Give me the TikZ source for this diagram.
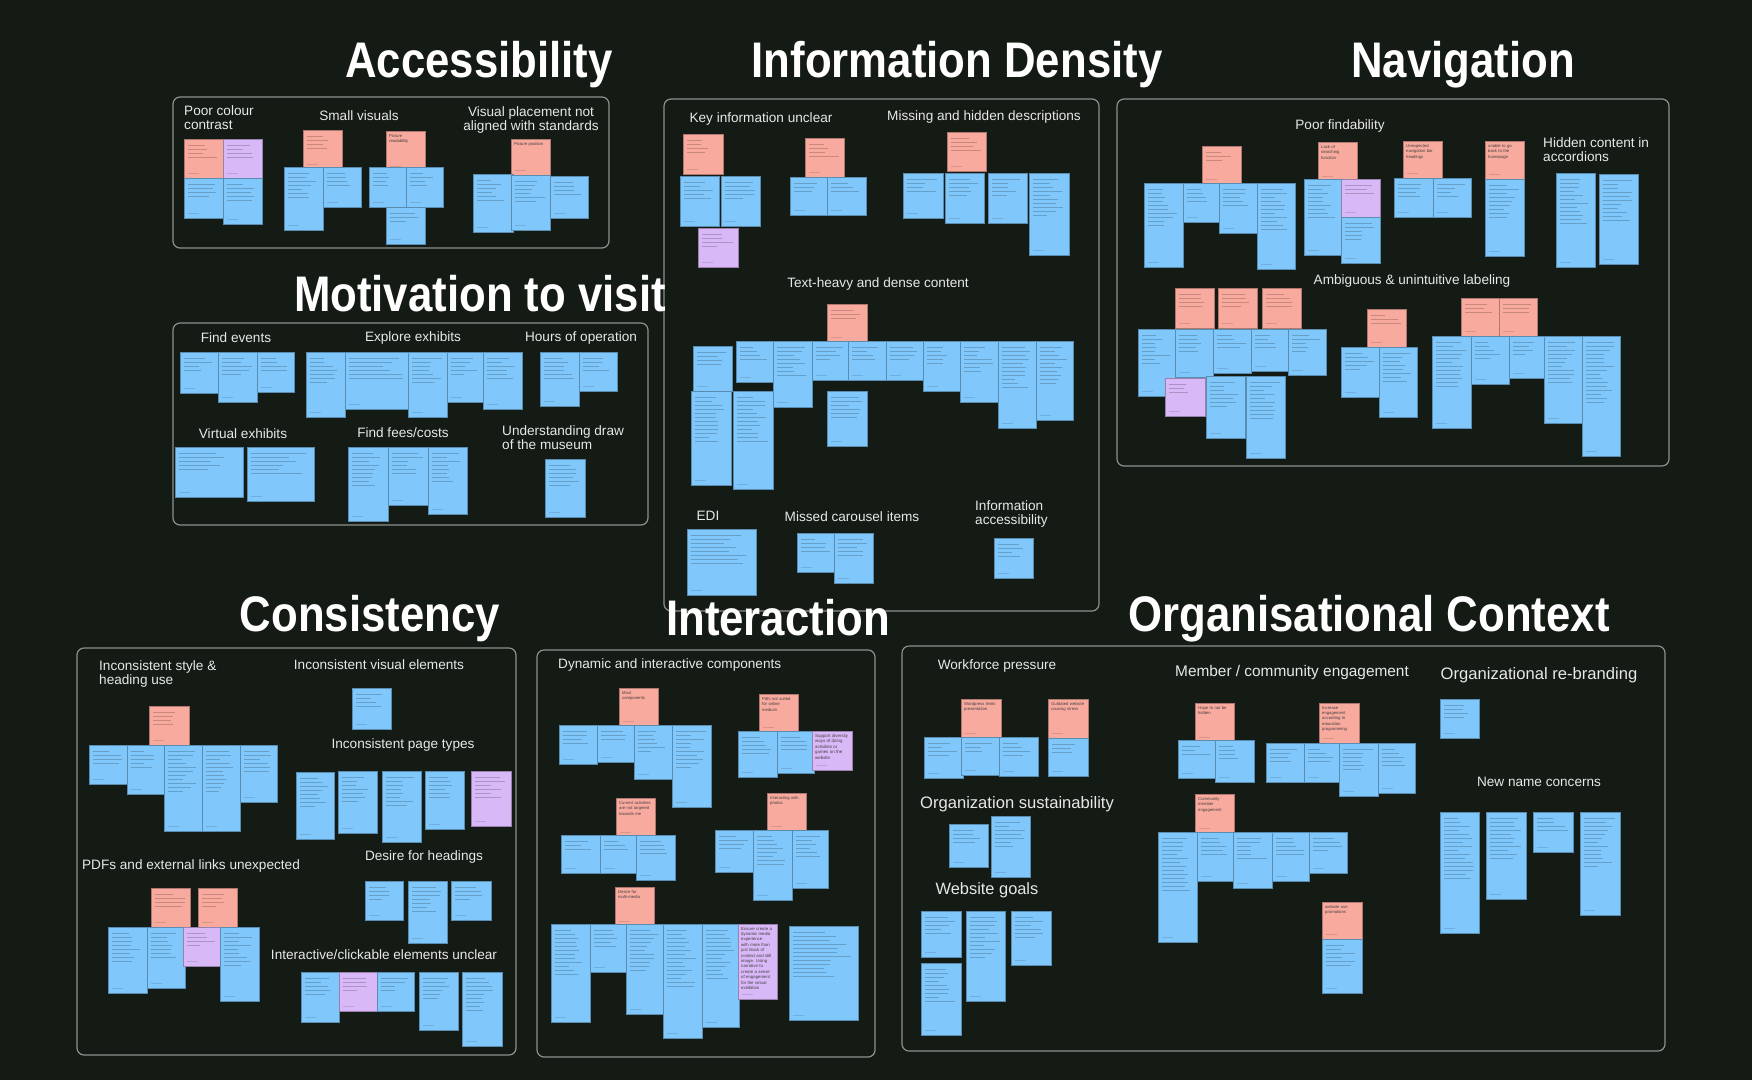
\documentclass[tikz,border=0pt]{standalone}
\usepackage{fontspec}
\setmainfont{Liberation Sans}
\usepackage{graphicx}
\usepackage{tikz}
\usetikzlibrary{positioning}
\definecolor{boardbg}{HTML}{141A14}
\definecolor{boardline}{HTML}{8E918E}
\definecolor{notesky}{HTML}{80C8FC}
\definecolor{notesalmon}{HTML}{F9AA9E}
\definecolor{notelilac}{HTML}{D9B8F7}
\definecolor{labelgrey}{HTML}{E8E8E8}

\tikzset{
  panel/.style={draw=boardline, line width=1.2pt, rounded corners=7pt},
  bigtitle/.style={white, inner sep=0pt, anchor=base, font=\fontsize{50}{50}\selectfont\bfseries},
  subtitle/.style={labelgrey, inner sep=0pt, anchor=north, align=center, font=\fontsize{13.6}{14}\selectfont},
  subleft/.style={subtitle, anchor=north west, align=left},
  noteink/.style={black, opacity=0.2, line width=0.75pt},
  notetext/.style={anchor=north west, inner sep=0pt, align=left, text=black!75,
    font=\fontsize{4.2}{5.4}\selectfont,
    execute at begin node={\hyphenpenalty=10000\exhyphenpenalty=10000\relax}},
}

% squeezed heading text
\newcommand{\hd}[1]{\scalebox{0.875}[1]{#1}}

% sticky note with scribbled lines: x, y, width, height, colour
\newcommand{\stick}[5]{%
  \fill[#5, draw=#5!70!black, line width=0.5pt] (#1,#2) rectangle ++(#3,#4);
  \pgfmathtruncatemacro{\nlines}{max(1,0.6*(#4-12)/4)}
  \foreach \k in {1,...,\nlines}{
    \pgfmathsetmacro{\llen}{(#3-9)*(0.45+0.55*rnd)}
    \draw[noteink] (#1+4,#2+2+4*\k) -- ++(\llen,0);
  }
  \draw[noteink, opacity=0.12] (#1+4,#2+#4-5) -- ++(11,0);
}

% sticky note with readable text
\newcounter{notecount}
\newcommand{\sticknote}[6]{%
  \stepcounter{notecount}
  \fill[#5, draw=#5!70!black, line width=0.5pt] (#1,#2) rectangle ++(#3,#4);
  \pgfmathsetmacro{\tw}{#3-6}
  \node[notetext, text width=\tw pt] (note\thenotecount) at (#1+3,#2+3) {#6};
  \draw[noteink, opacity=0.12] (#1+4,#2+#4-5) -- ++(11,0);
}

\begin{document}
\begin{tikzpicture}[x=1pt, y=-1pt]
  \pgfmathsetseed{42}
  % Board background
  \useasboundingbox (0,0) rectangle (1752,1080);
  \fill[boardbg] (0,0) rectangle (1752,1080);

  % Panels
  \draw[panel] (173,97) rectangle (609,248);
  \draw[panel] (173,323) rectangle (648,525);
  \draw[panel] (664,99) rectangle (1099,611);
  \draw[panel] (1117,99) rectangle (1669,466);
  \draw[panel] (77,648) rectangle (516,1055);
  \draw[panel] (537,650) rectangle (875,1057);
  \draw[panel] (902,646) rectangle (1665,1051);

  % Accessibility
  \node[subleft] (poorContrast) at (184,105) {Poor colour\\contrast};
  \node[subtitle] (smallVisuals) at (359,110) {Small visuals};
  \node[subtitle] (placement) at (531,106) {Visual placement not\\aligned with standards};
  \stick{184}{139}{39}{39}{notesalmon}
  \stick{223}{139}{39}{39}{notelilac}
  \stick{184}{178}{39}{40}{notesky}
  \stick{223}{178}{39}{46}{notesky}
  \stick{303}{130}{39}{39}{notesalmon}
  \stick{284}{167}{39}{63}{notesky}
  \stick{323}{167}{38}{40}{notesky}
  \sticknote{386}{131}{39}{40}{notesalmon}{Picture readability}
  \stick{369}{167}{37}{40}{notesky}
  \stick{406}{167}{37}{40}{notesky}
  \stick{386}{207}{39}{37}{notesky}
  \sticknote{511}{139}{39}{36}{notesalmon}{Picture position}
  \stick{473}{174}{40}{58}{notesky}
  \stick{511}{175}{39}{55}{notesky}
  \stick{550}{176}{38}{42}{notesky}

  % Motivation to visit
  \node[subtitle] (findEvents) at (236,332) {Find events};
  \node[subtitle] (exploreEx) at (413,331) {Explore exhibits};
  \node[subtitle] (hours) at (581,331) {Hours of operation};
  \node[subtitle] (virtualEx) at (243,428) {Virtual exhibits};
  \node[subtitle] (fees) at (403,427) {Find fees/costs};
  \node[subleft] (drawMuseum) at (502,425) {Understanding draw\\of the museum};
  \stick{180}{352}{38}{41}{notesky}
  \stick{218}{352}{39}{50}{notesky}
  \stick{257}{352}{37}{40}{notesky}
  \stick{306}{352}{39}{65}{notesky}
  \stick{345}{352}{63}{57}{notesky}
  \stick{408}{352}{39}{65}{notesky}
  \stick{447}{352}{36}{50}{notesky}
  \stick{483}{352}{39}{57}{notesky}
  \stick{540}{352}{39}{54}{notesky}
  \stick{579}{352}{38}{39}{notesky}
  \stick{175}{447}{68}{50}{notesky}
  \stick{247}{447}{67}{54}{notesky}
  \stick{348}{447}{40}{74}{notesky}
  \stick{388}{447}{40}{58}{notesky}
  \stick{428}{447}{39}{67}{notesky}
  \stick{545}{459}{40}{58}{notesky}

  % Information Density
  \node[subtitle] (keyInfo) at (761,112) {Key information unclear};
  \node[subtitle] (missingDesc) at (984,110) {Missing and hidden descriptions};
  \node[subtitle] (textHeavy) at (878,277) {Text-heavy and dense content};
  \node[subtitle] (edi) at (708,511) {EDI};
  \node[subtitle] (carousel) at (852,511) {Missed carousel items};
  \node[subleft] (infoAccess) at (975,500) {Information\\accessibility};
  \stick{683}{134}{40}{40}{notesalmon}
  \stick{680}{176}{39}{50}{notesky}
  \stick{721}{176}{39}{50}{notesky}
  \stick{698}{228}{40}{39}{notelilac}
  \stick{805}{138}{39}{39}{notesalmon}
  \stick{790}{177}{37}{38}{notesky}
  \stick{827}{177}{39}{38}{notesky}
  \stick{947}{132}{39}{39}{notesalmon}
  \stick{903}{173}{40}{45}{notesky}
  \stick{945}{173}{39}{50}{notesky}
  \stick{988}{173}{39}{50}{notesky}
  \stick{1029}{173}{40}{82}{notesky}
  \stick{827}{304}{40}{38}{notesalmon}
  \stick{693}{346}{39}{45}{notesky}
  \stick{736}{341}{37}{41}{notesky}
  \stick{773}{341}{39}{66}{notesky}
  \stick{812}{341}{36}{39}{notesky}
  \stick{848}{341}{38}{39}{notesky}
  \stick{886}{341}{37}{39}{notesky}
  \stick{923}{341}{37}{50}{notesky}
  \stick{960}{341}{38}{61}{notesky}
  \stick{998}{341}{38}{87}{notesky}
  \stick{1036}{341}{37}{79}{notesky}
  \stick{691}{391}{40}{94}{notesky}
  \stick{733}{391}{40}{98}{notesky}
  \stick{827}{391}{40}{55}{notesky}
  \stick{687}{529}{69}{66}{notesky}
  \stick{797}{533}{38}{39}{notesky}
  \stick{834}{533}{39}{50}{notesky}
  \stick{994}{538}{39}{40}{notesky}

  % Navigation
  \node[subtitle] (findability) at (1340,119) {Poor findability};
  \node[subleft] (accordions) at (1543,137) {Hidden content in\\accordions};
  \node[subtitle] (labeling) at (1412,274) {Ambiguous \& unintuitive labeling};
  \stick{1202}{146}{39}{38}{notesalmon}
  \stick{1144}{183}{39}{84}{notesky}
  \stick{1183}{183}{36}{39}{notesky}
  \stick{1219}{183}{38}{50}{notesky}
  \stick{1257}{183}{38}{86}{notesky}
  \sticknote{1318}{142}{39}{39}{notesalmon}{Lack of searching function}
  \stick{1304}{179}{37}{76}{notesky}
  \stick{1341}{179}{39}{38}{notelilac}
  \stick{1341}{217}{39}{46}{notesky}
  \sticknote{1403}{141}{39}{37}{notesalmon}{Unexpected navigation bar headings}
  \stick{1394}{178}{39}{39}{notesky}
  \stick{1433}{178}{38}{39}{notesky}
  \sticknote{1485}{141}{39}{38}{notesalmon}{unable to go back to the homepage}
  \stick{1485}{179}{39}{77}{notesky}
  \stick{1556}{173}{39}{94}{notesky}
  \stick{1599}{174}{39}{90}{notesky}
  \stick{1175}{288}{39}{40}{notesalmon}
  \stick{1218}{288}{39}{40}{notesalmon}
  \stick{1262}{288}{39}{40}{notesalmon}
  \stick{1138}{329}{37}{67}{notesky}
  \stick{1175}{329}{38}{48}{notesky}
  \stick{1213}{329}{38}{44}{notesky}
  \stick{1251}{329}{37}{42}{notesky}
  \stick{1288}{329}{38}{46}{notesky}
  \stick{1165}{378}{40}{38}{notelilac}
  \stick{1206}{376}{39}{62}{notesky}
  \stick{1246}{376}{39}{82}{notesky}
  \stick{1367}{309}{39}{38}{notesalmon}
  \stick{1341}{347}{38}{50}{notesky}
  \stick{1379}{347}{38}{70}{notesky}
  \stick{1461}{298}{38}{38}{notesalmon}
  \stick{1499}{298}{38}{38}{notesalmon}
  \stick{1432}{336}{39}{92}{notesky}
  \stick{1471}{336}{38}{48}{notesky}
  \stick{1509}{336}{35}{42}{notesky}
  \stick{1544}{336}{38}{87}{notesky}
  \stick{1582}{336}{38}{120}{notesky}

  % Consistency
  \node[subleft] (styleUse) at (99,660) {Inconsistent style \&\\heading use};
  \node[subtitle] (visualEl) at (379,659) {Inconsistent visual elements};
  \node[subtitle] (pageTypes) at (403,738) {Inconsistent page types};
  \node[subtitle] (pdfLinks) at (191,859) {PDFs and external links unexpected};
  \node[subtitle] (wantHeadings) at (424,850) {Desire for headings};
  \node[subtitle] (clickable) at (384,949) {Interactive/clickable elements unclear};
  \stick{149}{706}{40}{39}{notesalmon}
  \stick{89}{745}{38}{39}{notesky}
  \stick{127}{745}{37}{49}{notesky}
  \stick{164}{745}{38}{86}{notesky}
  \stick{202}{745}{38}{86}{notesky}
  \stick{240}{745}{37}{57}{notesky}
  \stick{352}{688}{39}{41}{notesky}
  \stick{296}{772}{38}{67}{notesky}
  \stick{338}{771}{39}{62}{notesky}
  \stick{382}{771}{39}{71}{notesky}
  \stick{425}{771}{39}{58}{notesky}
  \stick{471}{771}{40}{55}{notelilac}
  \stick{151}{888}{39}{39}{notesalmon}
  \stick{198}{888}{39}{39}{notesalmon}
  \stick{108}{927}{39}{66}{notesky}
  \stick{147}{927}{38}{61}{notesky}
  \stick{183}{927}{38}{39}{notelilac}
  \stick{220}{927}{39}{74}{notesky}
  \stick{365}{881}{38}{39}{notesky}
  \stick{408}{881}{39}{62}{notesky}
  \stick{451}{881}{40}{39}{notesky}
  \stick{301}{972}{38}{50}{notesky}
  \stick{339}{972}{38}{39}{notelilac}
  \stick{377}{972}{37}{39}{notesky}
  \stick{419}{972}{39}{58}{notesky}
  \stick{462}{972}{40}{74}{notesky}

  % Interaction
  \node[subleft] (dynamic) at (558,658) {Dynamic and interactive components};
  \sticknote{619}{688}{39}{38}{notesalmon}{Most components}
  \stick{559}{725}{38}{39}{notesky}
  \stick{597}{725}{37}{37}{notesky}
  \stick{634}{725}{38}{54}{notesky}
  \stick{672}{725}{39}{82}{notesky}
  \sticknote{759}{694}{39}{38}{notesalmon}{Pdfs not suited for online medium}
  \stick{738}{731}{39}{46}{notesky}
  \stick{777}{731}{37}{42}{notesky}
  \sticknote{812}{731}{40}{39}{notelilac}{\fontsize{4.4}{5.8}\selectfont Support diversity ways of doing activities or games on the website}
  \sticknote{616}{798}{39}{39}{notesalmon}{Current activities are not targeted towards me}
  \stick{561}{835}{39}{38}{notesky}
  \stick{600}{835}{37}{38}{notesky}
  \stick{636}{835}{39}{45}{notesky}
  \sticknote{767}{793}{39}{38}{notesalmon}{Interacting with photos}
  \stick{715}{830}{38}{42}{notesky}
  \stick{753}{830}{39}{70}{notesky}
  \stick{792}{830}{36}{58}{notesky}
  \sticknote{615}{887}{39}{39}{notesalmon}{Desire for multi-media}
  \stick{551}{924}{39}{98}{notesky}
  \stick{590}{924}{36}{48}{notesky}
  \stick{626}{924}{37}{90}{notesky}
  \stick{663}{924}{39}{114}{notesky}
  \stick{702}{924}{37}{103}{notesky}
  \sticknote{738}{924}{39}{75}{notelilac}{\fontsize{4.3}{6.2}\selectfont Ensure create a dynamic media experience with more than just block of context and still image. Using narrative to create a sense of engagement for the virtual exhibition}
  \stick{789}{926}{69}{94}{notesky}

  % Organisational Context
  \node[subtitle] (workforce) at (997,659) {Workforce pressure};
  \node[subtitle, font=\fontsize{15.4}{16}\selectfont] (community) at (1292,665) {Member / community engagement};
  \node[subtitle, font=\fontsize{16.6}{17}\selectfont] (rebrand) at (1539,667) {Organizational re-branding};
  \node[subtitle, font=\fontsize{16.6}{17}\selectfont] (sustain) at (1017,796) {Organization sustainability};
  \node[subtitle, font=\fontsize{16.4}{17}\selectfont] (goals) at (987,882) {Website goals};
  \node[subtitle] (newName) at (1539,777) {New name concerns};
  \sticknote{961}{699}{40}{39}{notesalmon}{Wordpress limits presentation}
  \sticknote{1048}{699}{40}{39}{notesalmon}{Outdated website causing stress}
  \stick{924}{737}{39}{41}{notesky}
  \stick{961}{737}{38}{38}{notesky}
  \stick{999}{737}{39}{39}{notesky}
  \stick{1048}{738}{40}{38}{notesky}
  \sticknote{1195}{703}{39}{39}{notesalmon}{Hope to not be hidden}
  \stick{1178}{740}{37}{38}{notesky}
  \stick{1215}{740}{39}{42}{notesky}
  \sticknote{1319}{703}{40}{40}{notesalmon}{Increase engagement according to education programming}
  \stick{1266}{743}{38}{39}{notesky}
  \stick{1304}{743}{35}{39}{notesky}
  \stick{1339}{743}{39}{53}{notesky}
  \stick{1378}{743}{37}{50}{notesky}
  \sticknote{1195}{794}{39}{39}{notesalmon}{Community member engagement}
  \stick{1158}{832}{39}{110}{notesky}
  \stick{1197}{832}{36}{49}{notesky}
  \stick{1233}{832}{39}{56}{notesky}
  \stick{1272}{832}{37}{49}{notesky}
  \stick{1309}{832}{38}{41}{notesky}
  \sticknote{1322}{902}{40}{37}{notesalmon}{website use promotions}
  \stick{1322}{939}{40}{54}{notesky}
  \stick{1440}{699}{39}{39}{notesky}
  \stick{949}{824}{39}{43}{notesky}
  \stick{991}{816}{39}{61}{notesky}
  \stick{921}{911}{40}{46}{notesky}
  \stick{966}{911}{39}{90}{notesky}
  \stick{1011}{911}{40}{54}{notesky}
  \stick{921}{963}{40}{72}{notesky}
  \stick{1440}{812}{39}{121}{notesky}
  \stick{1486}{812}{40}{87}{notesky}
  \stick{1533}{812}{40}{40}{notesky}
  \stick{1580}{812}{40}{103}{notesky}

  % Big headings
  \node[bigtitle] (accessibility) at (479,77) {\hd{Accessibility}};
  \node[bigtitle] (density) at (957,77) {\hd{Information Density}};
  \node[bigtitle] (navigation) at (1463,77) {\hd{Navigation}};
  \node[bigtitle] (motivation) at (480,311) {\hd{Motivation to visit}};
  \node[bigtitle] (consistency) at (370,631) {\hd{Consistency}};
  \node[bigtitle] (interaction) at (778,635) {\hd{Interaction}};
  \node[bigtitle] (orgContext) at (1369,631) {\hd{Organisational Context}};
\end{tikzpicture}
\end{document}
